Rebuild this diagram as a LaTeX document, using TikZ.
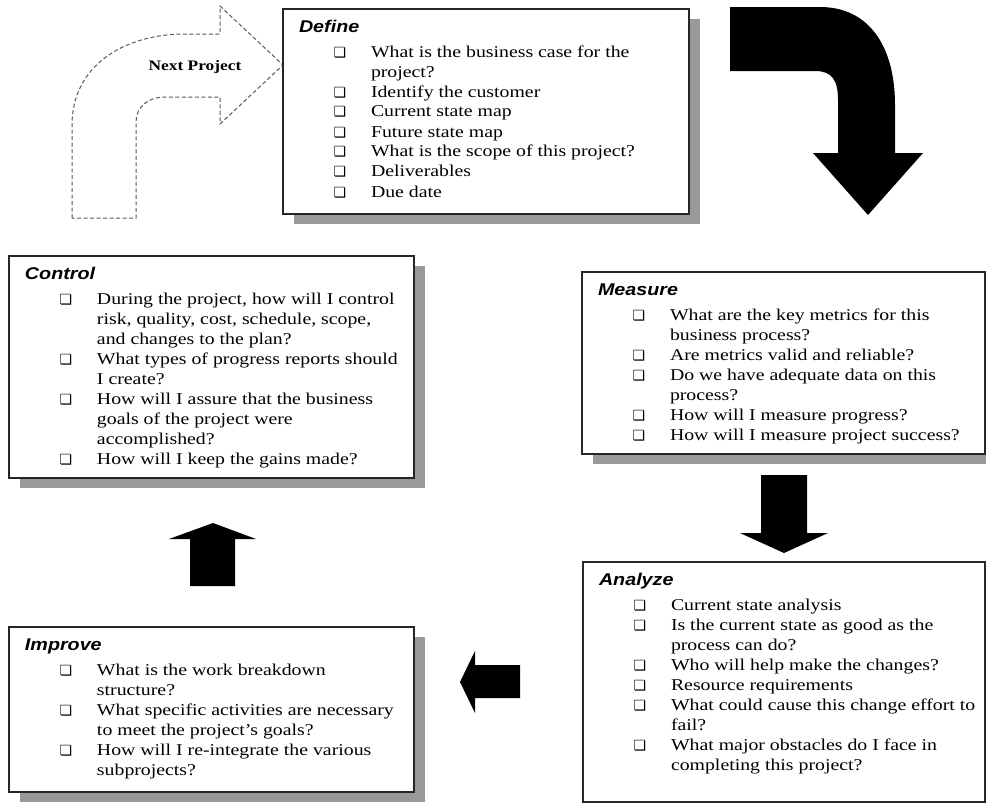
\documentclass[tikz,border=0pt]{standalone}
\usepackage{fontspec}
\setmainfont{Liberation Serif}[FakeStretch=1.2]
\newfontfamily\headfont{Liberation Sans}[FakeStretch=1.16]
\newfontfamily\dejavu{DejaVu Sans}
\usetikzlibrary{shadows,calc}
\newcommand{\bul}{{\dejavu\fontsize{14pt}{14pt}\selectfont ❏}}
\newcommand{\bi}[1]{\hspace*{57pt}\makebox[0pt]{\bul}\hspace*{31pt}\mbox{#1}\par}
\newcommand{\ci}[1]{\hspace*{88pt}\mbox{#1}\par}
\newcommand{\phasebox}[5]{\parbox[t][#2][t]{#1}{\fontsize{16.5pt}{20pt}\selectfont\setlength{\parindent}{0pt}\rule{0pt}{23pt}\hspace*{16pt}{\headfont\bfseries\itshape\fontsize{17pt}{20pt}\selectfont #3}\par\vspace{#4}#5}}
\tikzset{
  phase/.style={draw=black!85, line width=1.2pt, fill=white, inner sep=0pt, outer sep=0pt, anchor=north west,
    drop shadow={shadow xshift=11pt, shadow yshift=-10pt, fill=black!40, opacity=1}},
  blockarrow/.style={fill=black},
  dasharrow/.style={draw=black!65, line width=1pt, dash pattern=on 4pt off 2.5pt}
}
\begin{document}
\begin{tikzpicture}[x=1pt,y=-1pt]
\useasboundingbox (0,0) rectangle (986,803);
\fill[white] (0,0) rectangle (986,803);

% dashed "Next Project" arrow
\draw[dasharrow] (72,218) -- (72,125) .. controls (72,65) and (125,34) .. (185,34) -- (220,34) -- (220,6) -- (283,65) -- (220,124) -- (220,97) -- (165,97) .. controls (148,97) and (136,107) .. (136,122) -- (136,218) -- cycle;
\node[font={\bfseries\fontsize{14.5pt}{16pt}\selectfont}] (next) at (195,67) {Next Project};

% curved black arrow
\fill[blockarrow] (730,7) -- (820,7) .. controls (868,7) and (895,45) .. (895,105) -- (895,153) -- (923,153) -- (868,215) -- (813,153) -- (838,153) -- (838,100) .. controls (838,80) and (832,71) .. (815,71) -- (730,71) -- cycle;
% down arrow
\fill[blockarrow] (761,475) -- (807,475) -- (807,533) -- (828,533) -- (784,553) -- (740,533) -- (761,533) -- cycle;
% left arrow
\fill[blockarrow] (460,682) -- (475,651) -- (475,665) -- (520,665) -- (520,698) -- (475,698) -- (475,713) -- cycle;
% up arrow
\fill[blockarrow] (213,523) -- (256,539) -- (235,539) -- (235,586) -- (190,586) -- (190,539) -- (169,539) -- cycle;

\node[phase] (define) at (283,9) {\phasebox{406pt}{205pt}{Define}{5pt}{%
\bi{What is the business case for the}
\ci{project?}
\bi{Identify the customer}
\bi{Current state map}
\bi{Future state map}
\bi{What is the scope of this project?}
\bi{Deliverables}
\bi{Due date}}};

\node[phase] (control) at (9,256) {\phasebox{405pt}{222pt}{Control}{5pt}{%
\bi{During the project, how will I control}
\ci{risk, quality, cost, schedule, scope,}
\ci{and changes to the plan?}
\bi{What types of progress reports should}
\ci{I create?}
\bi{How will I assure that the business}
\ci{goals of the project were}
\ci{accomplished?}
\bi{How will I keep the gains made?}}};

\node[phase] (measure) at (582,272) {\phasebox{403pt}{182pt}{Measure}{5pt}{%
\bi{What are the key metrics for this}
\ci{business process?}
\bi{Are metrics valid and reliable?}
\bi{Do we have adequate data on this}
\ci{process?}
\bi{How will I measure progress?}
\bi{How will I measure project success?}}};

\node[phase] (analyze) at (583,562) {\phasebox{402pt}{240pt}{Analyze}{5pt}{%
\bi{Current state analysis}
\bi{Is the current state as good as the}
\ci{process can do?}
\bi{Who will help make the changes?}
\bi{Resource requirements}
\bi{What could cause this change effort to}
\ci{fail?}
\bi{What major obstacles do I face in}
\ci{completing this project?}}};

\node[phase] (improve) at (9,627) {\phasebox{405pt}{165pt}{Improve}{5pt}{%
\bi{What is the work breakdown}
\ci{structure?}
\bi{What specific activities are necessary}
\ci{to meet the project’s goals?}
\bi{How will I re-integrate the various}
\ci{subprojects?}}};
\end{tikzpicture}
\end{document}
